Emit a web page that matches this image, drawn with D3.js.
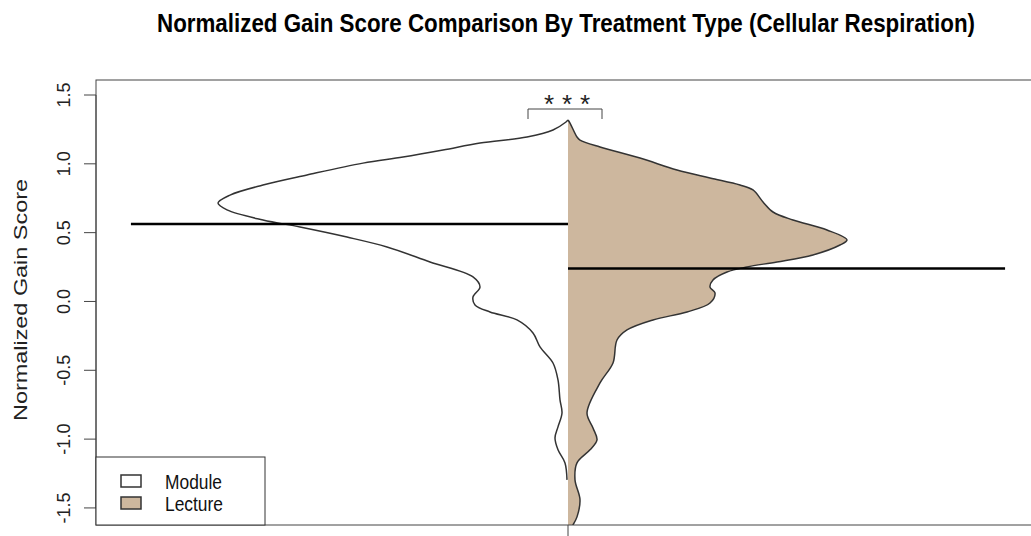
<!DOCTYPE html>
<html><head><meta charset="utf-8">
<script src="https://cdn.jsdelivr.net/npm/d3@7"></script>
<style>html,body{margin:0;padding:0;background:#fff}svg{display:block}</style>
</head><body>
<svg id="chart" width="1031" height="536"></svg>
<script>
const title = "Normalized Gain Score Comparison By Treatment Type (Cellular Respiration)";
const yLabel = "Normalized Gain Score";
const categories = ["Module", "Lecture"];
const yTicks = [-1.5, -1.0, -0.5, 0.0, 0.5, 1.0, 1.5];
const yTickLabels = ["-1.5", "-1.0", "-0.5", "0.0", "0.5", "1.0", "1.5"];
const significance = "***";

// density profile of Module (left half)
const moduleGain = [1.318, 1.304, 1.246, 1.195, 1.151, 1.100, 1.049, 1.005, 0.919, 0.846, 0.773, 0.715, 0.665, 0.592, 0.541, 0.468, 0.396, 0.287, 0.178, 0.105, 0.033, -0.025, -0.076, -0.134, -0.229, -0.330, -0.447, -0.570, -0.715, -0.810, -0.911, -0.991, -1.078, -1.173, -1.296];
const moduleDensity = [0, 0.008, 0.060, 0.164, 0.352, 0.500, 0.660, 0.820, 1.044, 1.220, 1.352, 1.400, 1.364, 1.220, 1.072, 0.884, 0.724, 0.552, 0.380, 0.352, 0.380, 0.372, 0.312, 0.204, 0.140, 0.112, 0.060, 0.040, 0.032, 0.024, 0.040, 0.052, 0.040, 0.012, 0.004];
// density profile of Lecture (right half)
const lectureGain = [1.318, 1.296, 1.195, 1.173, 1.122, 1.042, 0.955, 0.897, 0.846, 0.810, 0.723, 0.650, 0.592, 0.519, 0.447, 0.410, 0.338, 0.287, 0.251, 0.214, 0.156, 0.105, 0.062, -0.011, -0.076, -0.134, -0.207, -0.280, -0.447, -0.592, -0.810, -0.919, -1.006, -1.078, -1.173, -1.296, -1.441, -1.565, -1.637, -1.700];
const lectureDensity = [0, 0.008, 0.036, 0.048, 0.128, 0.288, 0.436, 0.568, 0.688, 0.740, 0.780, 0.820, 0.900, 1.036, 1.116, 1.088, 0.980, 0.836, 0.716, 0.636, 0.580, 0.568, 0.588, 0.568, 0.476, 0.340, 0.236, 0.196, 0.180, 0.128, 0.076, 0.100, 0.116, 0.088, 0.036, 0.028, 0.048, 0.036, 0.016, 0.0];
const means = [0.563, 0.240];
const fills = ["#ffffff", "#CDB79E"];

const svg = d3.select("#chart");
const box = {left: 96, top: 80, right: 1040, bottom: 525};

const y = d3.scaleLinear().domain([-1.624, 1.609]).range([box.bottom, box.top]);
const x = d3.scaleLinear().domain([0.5, 1.5]).range([box.left, box.right]);
const center = x(1);
const w = d3.scaleLinear().domain([0, 1.4]).range([0, 350]);
const beanHalf = 0.463;

svg.append("defs").append("clipPath").attr("id", "clip")
  .append("rect").attr("x", box.left).attr("y", box.top)
  .attr("width", box.right - box.left).attr("height", box.bottom - box.top);

const g = svg.append("g").attr("clip-path", "url(#clip)");

const modulePts = moduleGain.map((v, i) => [v, moduleDensity[i]]);
const lecturePts = lectureGain.map((v, i) => [v, lectureDensity[i]]);

// Lecture filled half
const area = d3.area()
  .y(d => y(d[0]))
  .x0(center)
  .x1(d => center + w(d[1]))
  .curve(d3.curveCatmullRom.alpha(0.5));
g.append("path").datum(lecturePts).attr("d", area).attr("fill", fills[1]).attr("stroke", "none");
const rightLine = d3.line().y(d => y(d[0])).x(d => center + w(d[1])).curve(d3.curveCatmullRom.alpha(0.5));
g.append("path").datum(lecturePts).attr("d", rightLine).attr("fill", "none").attr("stroke", "#333").attr("stroke-width", 1.5);

// Module outline half
const leftLine = d3.line().y(d => y(d[0])).x(d => center - w(d[1])).curve(d3.curveCatmullRom.alpha(0.5));
g.append("path").datum(modulePts).attr("d", leftLine).attr("fill", "none").attr("stroke", "#333").attr("stroke-width", 1.5);

// bean lines (means)
g.append("line").attr("x1", x(1 - beanHalf)).attr("x2", center)
  .attr("y1", y(means[0])).attr("y2", y(means[0]))
  .attr("stroke", "#000").attr("stroke-width", 2.5);
g.append("line").attr("x1", center).attr("x2", x(1 + beanHalf))
  .attr("y1", y(means[1])).attr("y2", y(means[1]))
  .attr("stroke", "#000").attr("stroke-width", 2.5);

// box
svg.append("rect").attr("x", box.left).attr("y", box.top)
  .attr("width", box.right - box.left).attr("height", box.bottom - box.top)
  .attr("fill", "none").attr("stroke", "#444").attr("stroke-width", 1);

// y axis
const yAxis = svg.append("g");
yAxis.append("line").attr("x1", box.left).attr("x2", box.left)
  .attr("y1", y(yTicks[0])).attr("y2", y(yTicks[yTicks.length - 1])).attr("stroke", "#444");
yTicks.forEach((t, i) => {
  yAxis.append("line").attr("x1", box.left - 12).attr("x2", box.left)
    .attr("y1", y(t)).attr("y2", y(t)).attr("stroke", "#444");
  yAxis.append("text")
    .attr("transform", `translate(70,${y(t)}) rotate(-90)`)
    .attr("text-anchor", "middle")
    .attr("font-family", "Liberation Sans, Arial, sans-serif")
    .attr("font-size", 18).attr("fill", "#222")
    .text(yTickLabels[i]);
});
svg.append("text")
  .attr("transform", `translate(27,${(178 + 422) / 2}) rotate(-90)`)
  .attr("text-anchor", "middle")
  .attr("font-family", "Liberation Sans, Arial, sans-serif")
  .attr("font-size", 18).attr("fill", "#222")
  .attr("textLength", 242).attr("lengthAdjust", "spacingAndGlyphs")
  .text(yLabel);

// x tick
svg.append("line").attr("x1", center).attr("x2", center)
  .attr("y1", box.bottom).attr("y2", box.bottom + 12).attr("stroke", "#444");

// significance bracket
svg.append("path")
  .attr("d", `M${center - 40},119 V109 H${center + 34} V119`)
  .attr("fill", "none").attr("stroke", "#444").attr("stroke-width", 1);
svg.append("text").attr("x", center - 1).attr("y", 113)
  .attr("text-anchor", "middle")
  .attr("font-family", "Liberation Sans, Arial, sans-serif")
  .attr("font-size", 26).attr("fill", "#222")
  .attr("textLength", 46).attr("lengthAdjust", "spacing")
  .text(significance);

// title
svg.append("text")
  .attr("transform", "translate(566,32) scale(1,1.25)")
  .attr("x", 0).attr("y", 0)
  .attr("text-anchor", "middle")
  .attr("font-family", "Liberation Sans, Arial, sans-serif")
  .attr("font-weight", "bold")
  .attr("font-size", 20).attr("fill", "#000")
  .attr("textLength", 818).attr("lengthAdjust", "spacingAndGlyphs")
  .text(title);

// legend
const lg = svg.append("g");
lg.append("rect").attr("x", box.left).attr("y", 457).attr("width", 265 - box.left).attr("height", box.bottom - 457)
  .attr("fill", "#fff").attr("stroke", "#333").attr("stroke-width", 1);
const legendY = [481, 503];
const legendW = [57, 58];
categories.forEach((c, i) => {
  lg.append("rect").attr("x", 121).attr("y", legendY[i] - 6).attr("width", 20).attr("height", 12)
    .attr("fill", fills[i]).attr("stroke", "#333").attr("stroke-width", 1.5);
  lg.append("text").attr("x", 165).attr("y", legendY[i] + 8)
    .attr("font-family", "Liberation Sans, Arial, sans-serif")
    .attr("font-size", 21).attr("fill", "#111")
    .attr("textLength", legendW[i]).attr("lengthAdjust", "spacingAndGlyphs")
    .text(c);
});
</script>
</body></html>
